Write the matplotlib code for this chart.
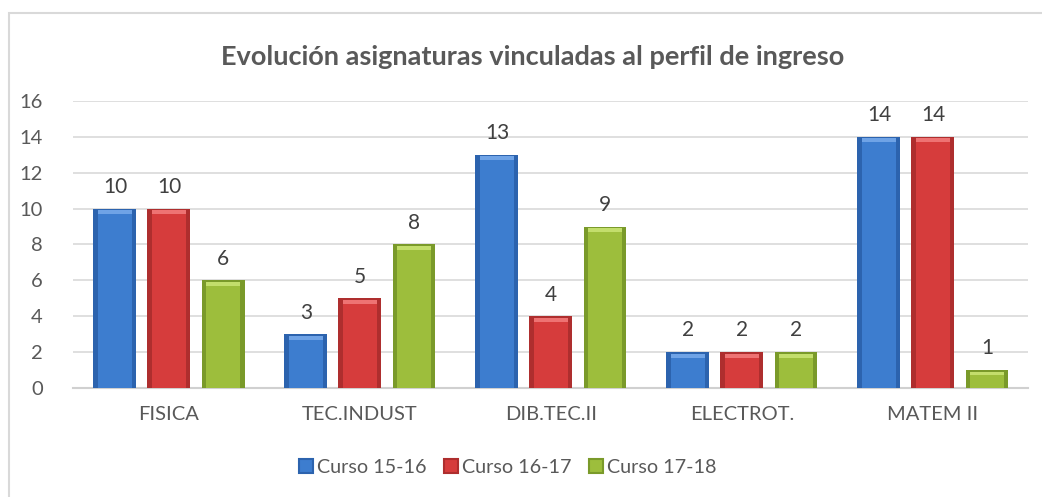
import numpy as np
import matplotlib.pyplot as plt
from matplotlib.patches import Rectangle

plt.rcParams['font.family'] = ['Lato', 'DejaVu Sans']

# Data
categories = ["FISICA", "TEC.INDUST", "DIB.TEC.II", "ELECTROT.", "MATEM II"]
series_names = ["Curso 15-16", "Curso 16-17", "Curso 17-18"]
curso_15_16 = [10, 3, 13, 2, 14]
curso_16_17 = [10, 5, 4, 2, 14]
curso_17_18 = [6, 8, 9, 2, 1]
y_ticks = [0, 2, 4, 6, 8, 10, 12, 14, 16]

series = [curso_15_16, curso_16_17, curso_17_18]
# (main, dark edge, light top)
colors = [("#3D7DCF", "#2C63AE", "#6FA3E6"),
          ("#D63C3C", "#AE2E2E", "#EE7373"),
          ("#9DBE3C", "#7A9A2A", "#C3DE6C")]
text_col = "#595959"

fig = plt.figure(figsize=(10.42, 4.97), dpi=100)
# chart border
fig.patches.append(Rectangle((9 / 1042, -0.05), 1.1, 1 - 13 / 497 + 0.05,
                             transform=fig.transFigure, fill=False,
                             edgecolor="#D9D9D9", linewidth=1.5))

ax = fig.add_axes([0.0705, 0.2193, 0.9165, 0.5775])
x = np.arange(len(categories))
w = 0.225
off = 0.283

for i, vals in enumerate(series):
    main, dark, light = colors[i]
    pos = x + (i - 1) * off
    vals = np.array(vals)
    ax.bar(pos, vals, w, color=dark, zorder=3, label=series_names[i])
    ax.bar(pos, vals - 0.3, w * 0.8, color=main, zorder=4)
    ax.bar(pos, np.full(len(vals), 0.22), w * 0.8, bottom=vals - 0.3,
           color=light, zorder=4)
    for p, v in zip(pos, vals):
        ax.text(p, v + 0.65, str(v), ha="center", va="bottom",
                fontsize=15, color="#404040")

ax.set_xlim(-0.5, len(categories) - 0.5)
ax.set_ylim(0, 16)
ax.set_yticks(y_ticks)
ax.yaxis.grid(True, color="#D9D9D9", linewidth=1.2, zorder=0)
ax.set_axisbelow(True)
for s in ["top", "right", "left"]:
    ax.spines[s].set_visible(False)
ax.spines["bottom"].set_color("#D0D0D0")
ax.spines["bottom"].set_linewidth(1.5)
ax.set_xticks(x)
ax.set_xticklabels(categories)
ax.tick_params(axis="both", length=0, labelsize=14.5, labelcolor=text_col)
ax.tick_params(axis="x", pad=13)
ax.tick_params(axis="y", pad=22)

fig.text(0.511, 0.885, "Evolución asignaturas vinculadas al perfil de ingreso",
         ha="center", va="center", fontsize=19.5, fontweight="bold",
         color=text_col)

handles = [Rectangle((0, 0), 1, 1, facecolor=c[0], edgecolor=c[1], linewidth=1.5)
           for c in colors]
fig.legend(handles, series_names, loc="center", bbox_to_anchor=(0.487, 0.06),
           ncol=3, frameon=False, fontsize=14.2, labelcolor=text_col,
           handlelength=0.7, handleheight=0.7, handletextpad=0.2,
           columnspacing=0.9)

fig.savefig("out.png", dpi=100)
